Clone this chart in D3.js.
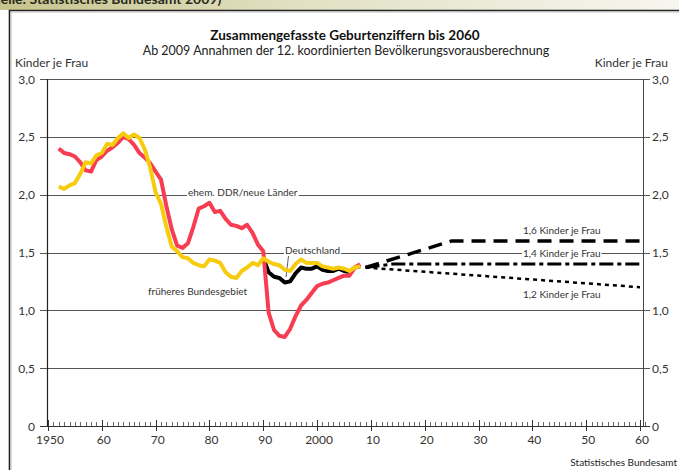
<!DOCTYPE html>
<html>
<head>
<meta charset="utf-8">
<script src="https://cdn.jsdelivr.net/npm/d3@7"></script>
<style>
  body { margin: 0; background: #fff; }
  svg { display: block; font-family: Lato, "Open Sans", sans-serif; }
  .tick-label { font-size: 12px; fill: #333; }
  .note { font-size: 10px; fill: #333; }
</style>
</head>
<body>
<div id="chart"></div>
<script>
// Data
const years = d3.range(1952, 2009);
const neueLaender = [2.40, 2.36, 2.35, 2.33, 2.28, 2.21, 2.20, 2.30, 2.33, 2.38,
  2.41, 2.45, 2.50, 2.48, 2.43, 2.36, 2.32, 2.27, 2.20, 2.13,
  1.90, 1.70, 1.56, 1.54, 1.58, 1.72, 1.88, 1.90, 1.93, 1.85,
  1.86, 1.79, 1.74, 1.73, 1.71, 1.74, 1.67, 1.57, 1.51, 0.98,
  0.83, 0.78, 0.77, 0.84, 0.95, 1.04, 1.09, 1.15, 1.21, 1.23,
  1.24, 1.26, 1.28, 1.30, 1.30, 1.37, 1.40];
const bundesgebiet = [2.07, 2.05, 2.08, 2.10, 2.18, 2.28, 2.27, 2.34, 2.36, 2.44,
  2.43, 2.49, 2.53, 2.49, 2.52, 2.49, 2.39, 2.23, 2.02, 1.92,
  1.72, 1.55, 1.51, 1.46, 1.45, 1.41, 1.39, 1.38, 1.44, 1.43,
  1.41, 1.33, 1.29, 1.28, 1.34, 1.37, 1.41, 1.39, 1.45, 1.42,
  1.40, 1.39, 1.35, 1.34, 1.40, 1.44, 1.41, 1.41, 1.41, 1.38,
  1.37, 1.36, 1.37, 1.36, 1.34, 1.37, 1.38];
const deYears = d3.range(1990, 2009);
const deutschland = [1.45, 1.33, 1.29, 1.28, 1.24, 1.25, 1.32, 1.37, 1.36, 1.36,
  1.38, 1.35, 1.34, 1.34, 1.36, 1.34, 1.33, 1.37, 1.38];

const proj16Years = [2009, 2025, 2060];
const proj16 = [1.37, 1.60, 1.60];
const proj14Years = [2009, 2014, 2060];
const proj14 = [1.37, 1.40, 1.40];
const proj12Years = [2009, 2060];
const proj12 = [1.37, 1.20];

const yTicks = [0, 0.5, 1, 1.5, 2, 2.5, 3];
const xTicks = [1950, 1960, 1970, 1980, 1990, 2000, 2010, 2020, 2030, 2040, 2050, 2060];
const xTickLabels = ["1950", "60", "70", "80", "90", "2000", "10", "20", "30", "40", "50", "60"];

// Layout
const W = 679, H = 470;
const plotLeft = 47, plotRight = 643;

const svg = d3.select("#chart").append("svg")
  .attr("width", W).attr("height", H);

// top band with cut-off source line
const defs = svg.append("defs");
const grad = defs.append("linearGradient").attr("id", "band");
grad.append("stop").attr("offset", "0%").attr("stop-color", "#c6c48c");
grad.append("stop").attr("offset", "45%").attr("stop-color", "#e2e1c4");
grad.append("stop").attr("offset", "100%").attr("stop-color", "#f6f6f0");
svg.append("rect").attr("x", 0).attr("y", 0).attr("width", W).attr("height", 10)
  .attr("fill", "url(#band)");
svg.append("text").attr("x", -22).attr("y", 4)
  .style("font-size", "14px").style("font-weight", "bold").attr("fill", "#2b2b20")
  .text("(Quelle: Statistisches Bundesamt 2009)");

// frame
svg.append("path").attr("d", `M9.5,${H} V10.5 H${W}`)
  .attr("fill", "none").attr("stroke", "#222").attr("stroke-width", 1.6);
svg.append("path").attr("d", `M11,${H} V12 H${W}`)
  .attr("fill", "none").attr("stroke", "#bbb").attr("stroke-width", 1);

// Scales
const x = d3.scaleLinear().domain([1950, 2060]).range([48, 640]);
const y = d3.scaleLinear().domain([0, 3]).range([426, 79]);

// Titles
svg.append("text").attr("x", 345).attr("y", 40).attr("text-anchor", "middle")
  .style("font-size", "13.5px").style("font-weight", "bold").attr("fill", "#111")
  .text("Zusammengefasste Geburtenziffern bis 2060");
svg.append("text").attr("x", 346).attr("y", 55).attr("text-anchor", "middle")
  .style("font-size", "12.5px").attr("fill", "#222")
  .text("Ab 2009 Annahmen der 12. koordinierten Bevölkerungsvorausberechnung");
svg.append("text").attr("class", "tick-label").attr("x", 15).attr("y", 67)
  .text("Kinder je Frau");
svg.append("text").attr("class", "tick-label").attr("x", 668).attr("y", 67)
  .attr("text-anchor", "end").text("Kinder je Frau");

// Grid lines + y labels
const grid = svg.append("g");
grid.selectAll("line").data(yTicks).enter().append("line")
  .attr("x1", plotLeft - 7).attr("x2", plotRight + 7)
  .attr("y1", d => Math.round(y(d)) + 0.5).attr("y2", d => Math.round(y(d)) + 0.5)
  .attr("stroke", d => d === 0 ? "#333" : "#555").attr("stroke-width", 1);
const fmt = d => d === 0 ? "0" : d.toFixed(1).replace(".", ",");
grid.selectAll(".yl").data(yTicks).enter().append("text")
  .attr("class", "tick-label").attr("x", 35).attr("y", d => y(d) + 4.5)
  .attr("text-anchor", "end").text(fmt);
grid.selectAll(".yr").data(yTicks).enter().append("text")
  .attr("class", "tick-label").attr("x", 652).attr("y", d => y(d) + 4.5)
  .text(fmt);

// vertical axis lines
svg.append("line").attr("x1", plotLeft + 0.5).attr("x2", plotLeft + 0.5)
  .attr("y1", y(3)).attr("y2", y(0)).attr("stroke", "#222").attr("stroke-width", 1.2);
svg.append("line").attr("x1", plotRight + 0.5).attr("x2", plotRight + 0.5)
  .attr("y1", y(3)).attr("y2", y(0)).attr("stroke", "#444").attr("stroke-width", 1);

// x axis: yearly minor ticks, decade ticks, labels
const xAxis = svg.append("g");
xAxis.selectAll(".minor").data(d3.range(1950, 2062)).enter().append("line")
  .attr("x1", d => Math.round(x(d)) + 0.5).attr("x2", d => Math.round(x(d)) + 0.5)
  .attr("y1", y(0) - 4).attr("y2", y(0)).attr("stroke", "#444").attr("stroke-width", 0.8);
xAxis.selectAll(".major").data(xTicks).enter().append("line")
  .attr("x1", d => Math.round(x(d)) + 0.5).attr("x2", d => Math.round(x(d)) + 0.5)
  .attr("y1", y(0) - 6).attr("y2", y(0) + 5).attr("stroke", "#333").attr("stroke-width", 1);
xAxis.selectAll("text").data(xTicks).enter().append("text")
  .attr("class", "tick-label").attr("x", d => x(d) + 2).attr("y", y(0) + 18)
  .attr("text-anchor", "middle").text((d, i) => xTickLabels[i]);

// labels with white knockout
function label(tx, ty, str, anchor) {
  const g = svg.append("g");
  const t = g.append("text").attr("class", "note").attr("x", tx).attr("y", ty)
    .attr("text-anchor", anchor || "start").text(str);
  const b = t.node().getBBox();
  g.insert("rect", "text").attr("x", b.x - 1).attr("y", b.y + 1)
    .attr("width", b.width + 2).attr("height", b.height - 2).attr("fill", "#fff");
}
label(188, 196, "ehem. DDR/neue Länder");
label(148, 295, "früheres Bundesgebiet");
label(285, 254, "Deutschland");
label(523, 234, "1,6 Kinder je Frau");
label(523, 257, "1,4 Kinder je Frau");
label(523, 298, "1,2 Kinder je Frau");

// leader line for Deutschland
svg.append("line").attr("x1", 288.5).attr("y1", 256).attr("x2", 286).attr("y2", 277)
  .attr("stroke", "#333").attr("stroke-width", 0.8);

// Lines
const line = d3.line().x(d => x(d[0])).y(d => y(d[1]));
const zip = (a, b) => a.map((v, i) => [v, b[i]]);

svg.append("path").datum(zip(deYears, deutschland))
  .attr("d", line).attr("fill", "none").attr("stroke", "#000")
  .attr("stroke-width", 4).attr("stroke-linejoin", "round");
svg.append("path").datum(zip(years, neueLaender))
  .attr("d", line).attr("fill", "none").attr("stroke", "#f83c52")
  .attr("stroke-width", 4).attr("stroke-linejoin", "round");
svg.append("path").datum(zip(years, bundesgebiet))
  .attr("d", line).attr("fill", "none").attr("stroke", "#f7cb0e")
  .attr("stroke-width", 4).attr("stroke-linejoin", "round");

svg.append("path").datum(zip(proj16Years, proj16))
  .attr("d", line).attr("fill", "none").attr("stroke", "#000")
  .attr("stroke-width", 3.5).attr("stroke-dasharray", "14,8");
svg.append("path").datum(zip(proj14Years, proj14))
  .attr("d", line).attr("fill", "none").attr("stroke", "#000")
  .attr("stroke-width", 3).attr("stroke-dasharray", "14,4,4,4");
svg.append("path").datum(zip(proj12Years, proj12))
  .attr("d", line).attr("fill", "none").attr("stroke", "#000")
  .attr("stroke-width", 2.5).attr("stroke-dasharray", "4,4");

// source
svg.append("text").attr("x", 677).attr("y", 466).attr("text-anchor", "end")
  .style("font-size", "10px").attr("fill", "#222").text("Statistisches Bundesamt");
</script>
</body>
</html>
